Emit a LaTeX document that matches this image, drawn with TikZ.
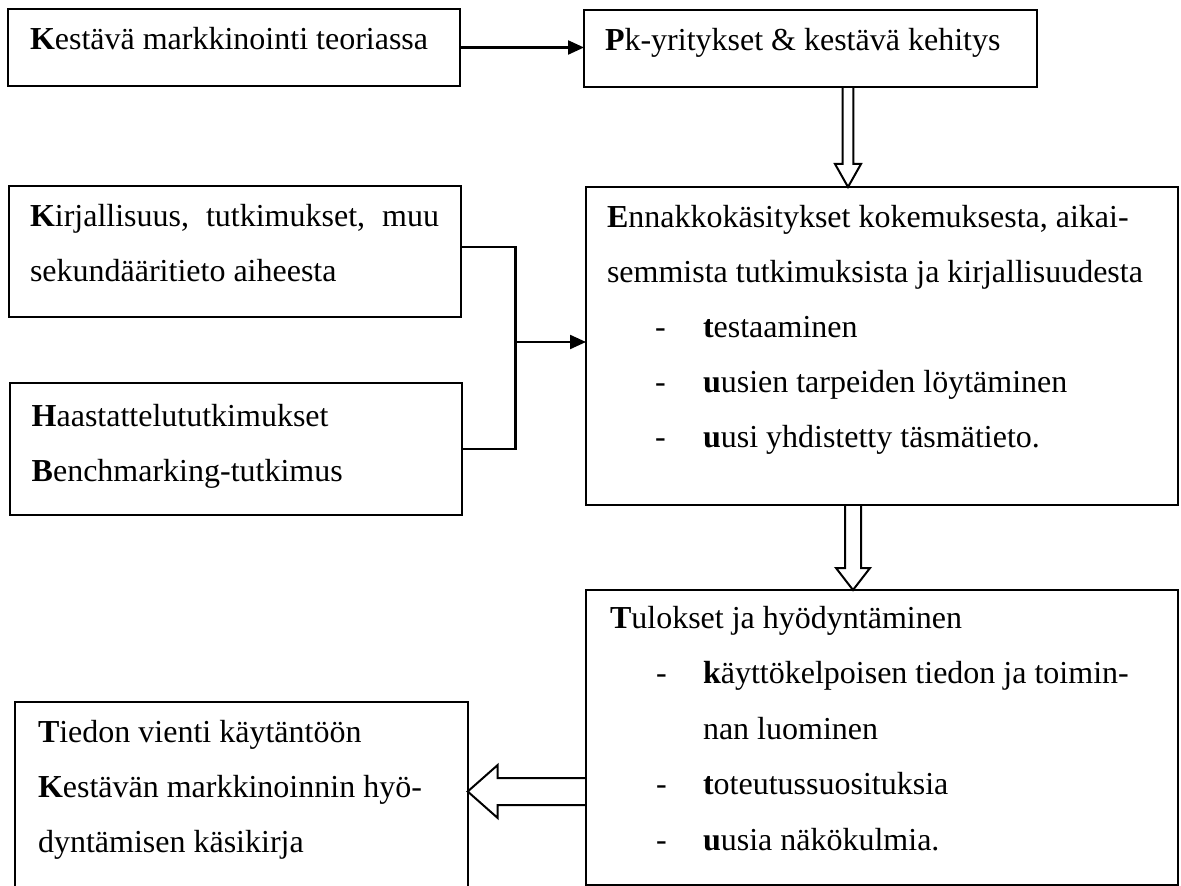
\documentclass[tikz,border=0pt]{standalone}
\usepackage{fontspec}
\setmainfont{Liberation Serif}
\usetikzlibrary{arrows.meta,calc}

% stacked lines with a fixed line pitch; the node's base is the first baseline
\newcommand{\stackedlines}[2][27.5pt]{\vtop{\baselineskip=#1\lineskiplimit=-100pt\relax #2}}
% bullet line: dash offset, text offset, text
\newcommand{\dashline}[3]{\hbox{\rlap{\hskip #1-}\hskip #2#3}}
% open block arrow pointing down, from #1 to tip #2; half shaft #3, half head #4, head length #5
\newcommand{\blockdown}[5]{\draw[hollowline] ($(#1)+(-#3,0)$) -- ($(#2)+(-#3,-#5)$) -- ($(#2)+(-#4,-#5)$) -- (#2) -- ($(#2)+(#4,-#5)$) -- ($(#2)+(#3,-#5)$) -- ($(#1)+(#3,0)$);}
% open block arrow pointing left, from #1 to tip #2
\newcommand{\blockleft}[5]{\draw[hollowline] ($(#1)+(0,-#3)$) -- ($(#2)+(#5,-#3)$) -- ($(#2)+(#5,-#4)$) -- (#2) -- ($(#2)+(#5,#4)$) -- ($(#2)+(#5,#3)$) -- ($(#1)+(0,#3)$);}

\begin{document}
\begin{tikzpicture}[x=0.5pt,y=-0.5pt,
  box/.style={draw, line width=1.1pt, rectangle, inner sep=0pt, outer sep=0pt, anchor=north west},
  txt/.style={inner sep=0pt, outer sep=0pt, anchor=base west, font=\fontsize{16pt}{27.5pt}\selectfont},
  conn/.style={line width=1.1pt},
  tipped/.style={-{Triangle[length=8pt,width=7pt]}},
  hollowline/.style={line width=1pt, line join=miter}]
\useasboundingbox (0,0) rectangle (1181,886);
\clip (0,0) rectangle (1181,886);

% boxes
\node[box, minimum width=226pt, minimum height=38.5pt] (b1) at (8,9) {};
\node[box, minimum width=226.5pt, minimum height=38.5pt] (b2) at (584,10) {};
\node[box, minimum width=226pt, minimum height=65.5pt] (b3) at (9,186) {};
\node[box, minimum width=226pt, minimum height=66pt] (b4) at (10,383) {};
\node[box, minimum width=296pt, minimum height=159pt] (b5) at (586,187) {};
\node[box, minimum width=296pt, minimum height=147.75pt] (b6) at (586,590) {};
\node[box, minimum width=226.35pt, minimum height=110pt] (b7) at (15,702) {};

% texts
\node[txt] (t1) at (30,50) {\textbf{K}estävä markkinointi teoriassa};
\node[txt] (t2) at (605,51) {\textbf{P}k-yritykset \& kestävä kehitys};
\node[txt] (t3) at (30,227) {\stackedlines{%
  \hbox to 204.5pt{\textbf{K}irjallisuus, tutkimukset, muu}
  \hbox{sekundääritieto aiheesta}}};
\node[txt] (t4) at (31.7,426.5) {\stackedlines{%
  \hbox{\textbf{H}aastattelututkimukset}
  \hbox{\textbf{B}enchmarking-tutkimus}}};
\node[txt] (t5) at (607,228) {\stackedlines{%
  \hbox{\textbf{E}nnakkokäsitykset kokemuksesta, aikai-}
  \hbox{semmista tutkimuksista ja kirjallisuudesta}
  \dashline{24pt}{48pt}{\textbf{t}estaaminen}
  \dashline{24pt}{48pt}{\textbf{u}usien tarpeiden löytäminen}
  \dashline{24pt}{48pt}{\textbf{u}usi yhdistetty täsmätieto.}}};
\node[txt] (t6) at (610,628) {\stackedlines[27.75pt]{%
  \hbox{\textbf{T}ulokset ja hyödyntäminen}
  \dashline{23pt}{46.5pt}{\textbf{k}äyttökelpoisen tiedon ja toimin-}
  \hbox{\hskip 46.5pt nan luominen}
  \dashline{23pt}{46.5pt}{\textbf{t}oteutussuosituksia}
  \dashline{23pt}{46.5pt}{\textbf{u}usia näkökulmia.}}};
\node[txt] (t7) at (38,742) {\stackedlines{%
  \hbox{\textbf{T}iedon vienti käytäntöön}
  \hbox{\textbf{K}estävän markkinoinnin hyö-}
  \hbox{dyntämisen käsikirja}}};

% plain connectors
\draw[conn, tipped] (b1.east) -- (b1.east -| b2.west);
\coordinate (jn) at (515.5,342);
\coordinate (b3out) at ($(b3.north east)!0.466!(b3.south east)$);
\draw[conn] (b3out) -| (jn) |- (b4.east);
\draw[conn, tipped] (jn) -- (jn -| b5.west);

% open block arrows
\coordinate (ax1) at (848,0);
\coordinate (ax2) at (853,0);
\coordinate (ay3) at (0,791.5);
\coordinate (a1s) at (b2.south -| ax1);
\coordinate (a1t) at (b5.north -| ax1);
\coordinate (a2s) at (b5.south -| ax2);
\coordinate (a2t) at (b6.north -| ax2);
\coordinate (a3s) at (b6.west |- ay3);
\coordinate (a3t) at (b7.east |- ay3);
\blockdown{a1s}{a1t}{5.3}{13}{23}
\blockdown{a2s}{a2t}{8}{17}{22}
\blockleft{a3s}{a3t}{13.5}{26.5}{30}
\end{tikzpicture}
\end{document}
